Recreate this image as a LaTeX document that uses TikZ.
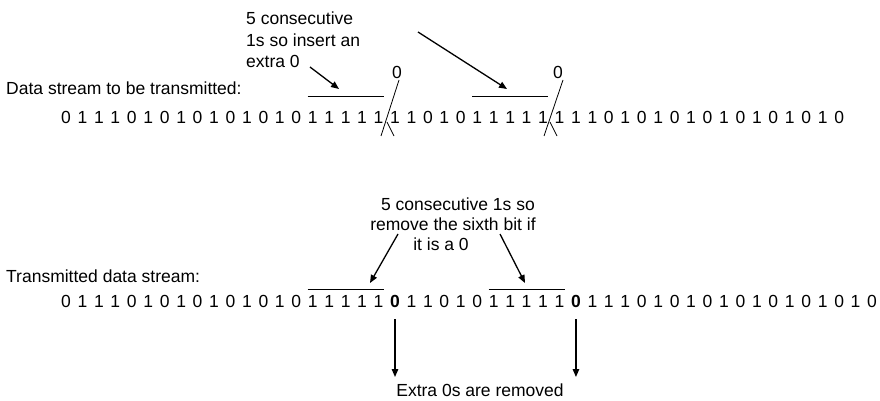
\documentclass[tikz,border=0pt]{standalone}
\usepackage{fontspec}
\setmainfont{Liberation Sans}
\usetikzlibrary{arrows.meta}
\begin{document}
\begin{tikzpicture}[x=1pt,y=-1pt,
  txt/.style={font=\fontsize{17.5}{21.5}\selectfont, inner sep=0pt},
  bit/.style={txt, anchor=center},
  lbl/.style={txt, anchor=west},
  ptr/.style={-{Triangle[length=8pt,width=6.5pt]}, line width=1.3pt},
  bar/.style={line width=0.8pt}]
\useasboundingbox (0,0) rectangle (880,401);

% ---------- sender side ----------
\node[lbl] (lbltop) at (6,88) {Data stream to be transmitted:};
\foreach \d [count=\i from 0] in {0,1,1,1,0,1,0,1,0,1,0,1,0,1,0,1,1,1,1,1,
    1,1,0,1,0,1,1,1,1,1,
    1,1,1,0,1,0,1,0,1,0,1,0,1,0,1,0,1,0}
  \node[bit] (t\i) at ({66+16.45*\i},117) {\d};

\node[txt, anchor=north west, align=left] (ins) at (246,12)
  {5 consecutive\\1s so insert an\\extra 0};

% runs of five ones
\draw[bar] (t15.west |- 0,96) -- (t19.east |- 0,96);
\draw[bar] (t25.west |- 0,96) -- (t29.east |- 0,96);

\coordinate (a1s) at (310,67);  \coordinate (a1e) at (339,89);
\coordinate (a2s) at (418,32);  \coordinate (a2e) at (507,89);
\draw[ptr] (a1s) -- (a1e);
\draw[ptr] (a2s) -- (a2e);

% stuffed zeros with insertion marks
\node[bit] (z1) at (397,72) {0};
\node[bit] (z2) at (558,72) {0};
\coordinate (s1a) at (399,80);  \coordinate (s1b) at (381,136);
\coordinate (s1c) at (387,122); \coordinate (s1d) at (394,136);
\coordinate (s2a) at (563,80);  \coordinate (s2b) at (544,136);
\coordinate (s2c) at (550,122); \coordinate (s2d) at (557,136);
\draw[bar] (s1a) -- (s1b);  \draw[bar] (s1c) -- (s1d);
\draw[bar] (s2a) -- (s2b);  \draw[bar] (s2c) -- (s2d);

% ---------- receiver side ----------
\node[lbl] (lblbot) at (6,276) {Transmitted data stream:};
\foreach \d [count=\i from 0] in {0,1,1,1,0,1,0,1,0,1,0,1,0,1,0,1,1,1,1,1,
    {\textbf{0}},1,1,0,1,0,1,1,1,1,1,
    {\textbf{0}},1,1,1,0,1,0,1,0,1,0,1,0,1,0,1,0,1,0}
  \node[bit] (b\i) at ({66+16.45*\i},301) {\d};

\node[txt, anchor=north, align=center, font=\fontsize{17.5}{20}\selectfont]
  (rem) at (453,198)
  {\hspace*{10pt}5 consecutive 1s so\\remove the sixth bit if\\it is a 0\hspace*{24pt}};

\draw[bar] (b15.west |- 0,289) -- (b19.east |- 0,289);
\draw[bar] (b26.west |- 0,289) -- (b30.east |- 0,289);

\coordinate (r1s) at (398,234); \coordinate (r1e) at (370,283);
\coordinate (r2s) at (500,234); \coordinate (r2e) at (525,283);
\draw[ptr] (r1s) -- (r1e);
\draw[ptr] (r2s) -- (r2e);

\node[txt] (gone) at (480,390) {Extra 0s are removed};
\draw[ptr] (b20.south |- 0,319) -- (b20.south |- 0,377);
\draw[ptr] (b31.south |- 0,319) -- (b31.south |- 0,377);
\end{tikzpicture}
\end{document}
